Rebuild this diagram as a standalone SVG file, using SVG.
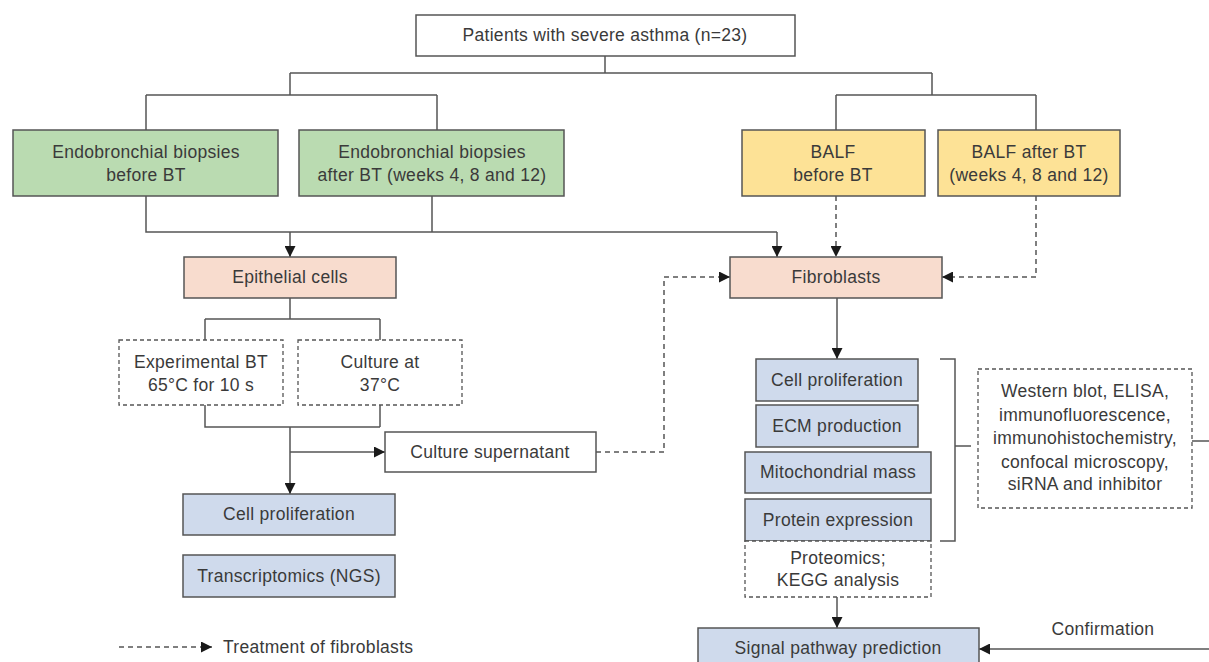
<svg xmlns="http://www.w3.org/2000/svg" width="1209" height="662" viewBox="0 0 1209 662">
<defs>
<marker id="ah" viewBox="0 0 10 10" refX="10" refY="5" markerWidth="11" markerHeight="11" markerUnits="userSpaceOnUse" orient="auto">
<path d="M0,0 L10,5 L0,10 z" fill="#1a1a1a"/>
</marker>
<style>
text{font-family:"Liberation Sans",Arial,sans-serif;font-size:17.5px;fill:#3a3a3a;text-anchor:middle;letter-spacing:0.3px}
.b{stroke:#555;stroke-width:1.5}
.d{fill:#fff;stroke:#555;stroke-width:1.3;stroke-dasharray:4 3}
.w{fill:#fff}
.g{fill:#badbb1}
.y{fill:#fde296}
.p{fill:#f8dcce}
.u{fill:#cfdaec}
.c{fill:none;stroke:#555;stroke-width:1.5}
.cd{fill:none;stroke:#555;stroke-width:1.5;stroke-dasharray:5 4}
.a{marker-end:url(#ah)}
</style>
</defs>
<rect width="1209" height="662" fill="#fff"/>
<g id="connectors">
<path class="c" d="M605,56 V73 M290,73 H932 M290,73 V95 M146,95 H437 M146,95 V130 M437,95 V130 M932,73 V95 M836,95 H1036 M836,95 V130 M1036,95 V130"/>
<path class="c" d="M146,196 V232 H777 M432,196 V232"/>
<path class="c a" d="M290,232 V257"/>
<path class="c a" d="M777,232 V257"/>
<path class="cd a" d="M836,196 V257"/>
<path class="cd a" d="M1036,196 V277 H942"/>
<path class="c" d="M290,298 V319 M205,319 H380 M205,319 V340 M380,319 V340"/>
<path class="c" d="M205,405 V427 H380 M380,405 V427"/>
<path class="c a" d="M290,427 V494"/>
<path class="c a" d="M290,452 H385"/>
<path class="cd a" d="M596,452 H664 V277 H730"/>
<path class="c a" d="M837,298 V359"/>
<path class="c" d="M940,359 H955 V541 H940 M955,446 H971 M1192,441 H1209"/>
<path class="c a" d="M837,597 V628"/>
<path class="c a" d="M1209,649 H979"/>
<path class="cd a" d="M119,647 H212"/>
</g>
<g id="patients"><rect class="w b" x="416" y="15" width="379" height="41"/><text x="605" y="41">Patients with severe asthma (n=23)</text></g>
<g id="ebb-before"><rect class="g b" x="13" y="130" width="265" height="66"/><text x="146" y="158">Endobronchial biopsies</text><text x="146" y="181">before BT</text></g>
<g id="ebb-after"><rect class="g b" x="299" y="130" width="265" height="66"/><text x="432" y="158">Endobronchial biopsies</text><text x="432" y="181">after BT (weeks 4, 8 and 12)</text></g>
<g id="balf-before"><rect class="y b" x="742" y="130" width="183" height="66"/><text x="833" y="158">BALF</text><text x="833" y="181">before BT</text></g>
<g id="balf-after"><rect class="y b" x="938" y="130" width="182" height="66"/><text x="1029" y="158">BALF after BT</text><text x="1029" y="181">(weeks 4, 8 and 12)</text></g>
<g id="epithelial"><rect class="p b" x="184" y="257" width="212" height="41"/><text x="290" y="283">Epithelial cells</text></g>
<g id="fibroblasts"><rect class="p b" x="730" y="257" width="212" height="41"/><text x="836" y="283">Fibroblasts</text></g>
<g id="exp-bt"><rect class="d" x="119" y="340" width="164" height="65"/><text x="201" y="368">Experimental BT</text><text x="201" y="391">65°C for 10 s</text></g>
<g id="culture37"><rect class="d" x="298" y="340" width="164" height="65"/><text x="380" y="368">Culture at</text><text x="380" y="391">37°C</text></g>
<g id="supernatant"><rect class="w b" x="385" y="432" width="211" height="40"/><text x="490" y="458">Culture supernatant</text></g>
<g id="epi-prolif"><rect class="u b" x="183" y="494" width="212" height="41"/><text x="289" y="520">Cell proliferation</text></g>
<g id="transcriptomics"><rect class="u b" x="183" y="555" width="212" height="42"/><text x="289" y="582">Transcriptomics (NGS)</text></g>
<g id="fib-prolif"><rect class="u b" x="756" y="359" width="162" height="42"/><text x="837" y="386">Cell proliferation</text></g>
<g id="ecm"><rect class="u b" x="756" y="405" width="162" height="42"/><text x="837" y="432">ECM production</text></g>
<g id="mito"><rect class="u b" x="745" y="452" width="186" height="41"/><text x="838" y="478">Mitochondrial mass</text></g>
<g id="protein"><rect class="u b" x="745" y="499" width="186" height="42"/><text x="838" y="526">Protein expression</text></g>
<g id="proteomics"><rect class="d" x="745" y="541" width="186" height="56"/><text x="838" y="564">Proteomics;</text><text x="838" y="586">KEGG analysis</text></g>
<g id="methods"><rect class="d" x="978" y="369" width="214" height="139"/><text x="1085" y="397">Western blot, ELISA,</text><text x="1085" y="421">immunofluorescence,</text><text x="1085" y="444">immunohistochemistry,</text><text x="1085" y="468">confocal microscopy,</text><text x="1085" y="490">siRNA and inhibitor</text></g>
<g id="signal"><rect class="u b" x="698" y="628" width="281" height="50"/><text x="838" y="654">Signal pathway prediction</text></g>
<g id="confirmation-label"><text x="1103" y="635">Confirmation</text></g>
<g id="legend"><text x="223" y="653" style="text-anchor:start">Treatment of fibroblasts</text></g>
</svg>
